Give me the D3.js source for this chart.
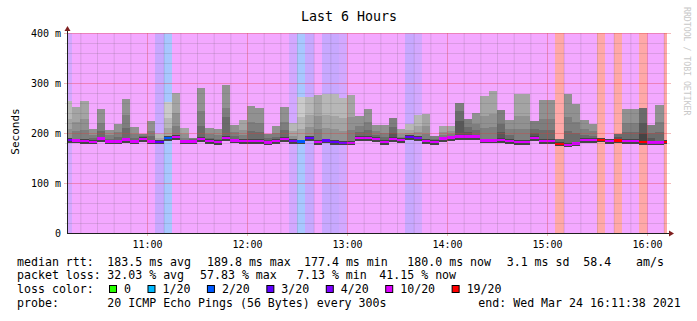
<!DOCTYPE html>
<html>
<head>
<meta charset="utf-8">
<script src="https://cdn.jsdelivr.net/npm/d3@7"></script>
<style>
  body { margin: 0; background: #fff; }
  svg { display: block; }
  text { font-family: "DejaVu Sans Mono", monospace; fill: #000; }
</style>
</head>
<body>
<svg id="chart" width="697" height="321"></svg>
<script>
// 5 minute bins, first one starts 10:10 (partly hidden left of the canvas)
const firstBin = new Date(2021, 2, 24, 10, 10, 0);
const startTime = new Date(2021, 2, 24, 10, 11, 38);
const endTime = new Date(2021, 2, 24, 16, 11, 38);
const binTimes = d3.range(73).map(i => d3.timeMinute.offset(firstBin, 5 * i));

// values in ms
const rttMedian = [186,185,184,182,189,183,183,187,183,188, 183,182,190,192,183,183,188,184,182,190,
  185,184,184,184,181,184,188,184,183,190, 182,185,182,180,180,190,190,188,182,188,
  186,192,190,184,182,189,191,193,193,193, 185,185,186,184,182,182,190,184,184,178,
  176,179,186,186,186,184,185,184,184,182, 181,181,182];
const rttMax = [264,253,265,209,248,206,218,268,213,199, 224,199,263,280,211,191,290,211,208,297,
  217,226,255,250,198,214,252,220,273,273, 276,278,278,271,276,235,249,217,216,231,
  209,219,236,239,194,215,215,261,229,241, 274,284,246,227,279,279,225,266,266,188,
  279,259,226,218,189,189,198,249,249,251, 216,257,186];
const rttHigh = [229,222,228,197,221,196,202,236,199,194, 205,191,230,240,198,188,245,199,196,250,
  203,207,223,220,190,200,223,204,232,236, 234,236,235,230,233,215,222,204,201,212,
  199,207,215,214,189,203,204,244,213,219, 234,239,219,208,235,235,209,229,229,183,
  233,223,208,204,188,187,192,220,220,220, 200,223,184];
const rttMid = [208,204,207,190,205,189,193,210,191,191, 194,187,210,215,191,186,215,191,189,232,
  194,196,204,202,186,192,206,194,208,213, 208,211,209,205,207,203,206,196,192,200,
  192,200,203,199,185,196,198,225,203,206, 210,213,203,196,209,209,200,207,207,181,
  205,201,197,195,187,186,189,202,202,201, 191,202,183];
const rttMin = [181,180,179,178,183,178,178,181,178,182, 178,178,184,186,178,178,182,179,177,184,
  180,179,179,179,177,179,182,179,178,184, 177,180,177,176,176,184,184,182,177,182,
  181,186,184,179,177,183,185,187,187,187, 180,180,181,179,177,177,184,179,179,175,
  173,175,181,181,182,179,181,179,179,177, 176,176,178];
// lost pings out of 20 per bin
const lossCount = [4,5,6,7,8,7,8,8,8,10, 8,3,2,5,6,10,8,8,8,8,
  8,5,7,8,9,8,8,4,2,3, 5,3,3,4,6,8,7,8,8,9,
  5,3,4,6,9,5,5,10,9,8, 6,6,9,8,5,5,9,8,8,12,
  8,8,8,8,11,10,11,8,8,11, 9,8,12];

const lossSteps = [0, 1, 2, 3, 4, 10, 19];
const lossLabels = ['0', '1/20', '2/20', '3/20', '4/20', '10/20', '19/20'];
const lossColors = ['#26ff00', '#00b8ff', '#0059ff', '#5e00ff', '#7e00ff', '#dd00ff', '#ff0000'];

const yTicks = [0, 100, 200, 300, 400];

const svg = d3.select('#chart');
const x = d3.scaleTime().domain([startTime, endTime]).range([66.4, 666.4]);
const y = d3.scaleLinear().domain([0, 400]).range([233, 33]);

svg.append('defs').append('clipPath').attr('id', 'canvas')
  .append('rect').attr('x', 67).attr('y', 33).attr('width', 600).attr('height', 200);

const bins = binTimes.map((t, i) => ({
  t0: t, t1: d3.timeMinute.offset(t, 5),
  med: rttMedian[i], max: rttMax[i], high: rttHigh[i], mid: rttMid[i], min: rttMin[i],
  loss: lossCount[i]
}));

function lossIndex(m) {
  return Math.min(d3.bisectLeft(lossSteps, m), lossSteps.length - 1);
}
// smokeping style grey for band i of 10
function shade(i) {
  const c = Math.floor(190 / 10 * (10 - Math.min(i, 10))) + 50;
  return d3.rgb(c, c, c).formatHex();
}

const canvas = svg.append('g').attr('clip-path', 'url(#canvas)');

// loss background
canvas.selectAll('.lossbg')
  .data(bins)
  .enter()
  .append('rect')
  .attr('class', 'lossbg')
  .attr('x', d => x(d.t0))
  .attr('width', d => x(d.t1) - x(d.t0))
  .attr('y', 33)
  .attr('height', 200)
  .attr('shape-rendering', 'crispEdges')
  .attr('fill', d => {
    const c = d3.rgb(lossColors[lossIndex(d.loss)]);
    const a = 0.34;
    return d3.rgb(255 - a * (255 - c.r), 255 - a * (255 - c.g), 255 - a * (255 - c.b)).formatHex();
  });

// smoke, outer band first
const levels = [
  { top: d => d.max, band: 0 },
  { top: d => d.high, band: 1 },
  { top: d => d.mid, band: 2 },
  { top: d => d.med + 4, band: 'core' }
];
levels.forEach(lv => {
  canvas.append('g')
    .selectAll('rect')
    .data(bins)
    .enter()
    .append('rect')
    .attr('x', d => x(d.t0))
    .attr('width', d => x(d.t1) - x(d.t0))
    .attr('y', d => y(lv.top(d)))
    .attr('height', d => Math.max(0, y(d.min) - y(lv.top(d))))
    .attr('shape-rendering', 'crispEdges')
    .attr('fill', d => {
      if (lv.band === 'core') return shade(9);
      return shade(Math.ceil(d.loss / 2) + 1 + lv.band);
    });
});

// median
canvas.selectAll('.median')
  .data(bins)
  .enter()
  .append('rect')
  .attr('class', 'median')
  .attr('x', d => x(d.t0))
  .attr('width', d => x(d.t1) - x(d.t0))
  .attr('y', d => y(d.med) - 1.25)
  .attr('height', 2.5)
  .attr('shape-rendering', 'crispEdges')
  .attr('fill', d => lossColors[lossIndex(d.loss)]);

// grid on top
const minorY = d3.range(0, 401, 20).filter(v => v % 100 !== 0);
svg.append('g')
  .attr('transform', 'translate(65,0)')
  .call(d3.axisLeft(y).tickValues(minorY).tickSize(-605).tickFormat(''))
  .call(g => g.select('.domain').remove())
  .selectAll('line').attr('stroke', 'rgba(80,80,80,0.16)');
svg.append('g')
  .attr('transform', 'translate(64,0)')
  .call(d3.axisLeft(y).tickValues(yTicks.slice(1)).tickSize(-607).tickFormat(''))
  .call(g => g.select('.domain').remove())
  .selectAll('line').attr('stroke', 'rgba(222,60,60,0.35)');
svg.append('g')
  .attr('transform', 'translate(0,233)')
  .call(d3.axisBottom(x).ticks(d3.timeMinute.every(10)).tickSize(-200).tickFormat(''))
  .call(g => g.select('.domain').remove())
  .selectAll('line').attr('stroke', d => d.getMinutes() === 0 ? 'none' : 'rgba(80,80,80,0.16)');
svg.append('g')
  .attr('transform', 'translate(0,236)')
  .call(d3.axisBottom(x).ticks(d3.timeHour.every(1)).tickSize(-203).tickFormat(''))
  .call(g => g.select('.domain').remove())
  .selectAll('line').attr('stroke', 'rgba(222,60,60,0.35)');

// axes
svg.append('line').attr('x1', 67.5).attr('x2', 67.5).attr('y1', 233).attr('y2', 30)
  .attr('stroke', '#1f1f1f');
svg.append('line').attr('x1', 67).attr('x2', 670).attr('y1', 233.5).attr('y2', 233.5)
  .attr('stroke', '#1f1f1f');
svg.append('path').attr('d', 'M64.5,31L70.5,31L67.5,26Z').attr('fill', '#7f1f1f');
svg.append('path').attr('d', 'M669,230.5L669,236.5L674,233.5Z').attr('fill', '#7f1f1f');

const yAxis = svg.append('g')
  .attr('transform', 'translate(61,0)')
  .call(d3.axisLeft(y).tickValues(yTicks).tickSize(0).tickPadding(0)
    .tickFormat(d => d === 0 ? '0' : d + ' m'));
yAxis.select('.domain').remove();
yAxis.selectAll('text').attr('font-family', '"DejaVu Sans Mono", monospace').attr('font-size', '10px').attr('fill', '#000');

const xAxis = svg.append('g')
  .attr('transform', 'translate(0,233)')
  .call(d3.axisBottom(x).ticks(d3.timeHour.every(1)).tickSize(0).tickPadding(7.4)
    .tickFormat(d3.timeFormat('%H:%M')));
xAxis.select('.domain').remove();
xAxis.selectAll('text').attr('font-family', '"DejaVu Sans Mono", monospace').attr('font-size', '10px').attr('fill', '#000');

// titles
svg.append('text')
  .attr('x', 349).attr('y', 20.5)
  .attr('text-anchor', 'middle')
  .style('font-size', '13.3px')
  .text('Last 6 Hours');
svg.append('text')
  .attr('transform', 'translate(18.5,131.5) rotate(-90)')
  .attr('text-anchor', 'middle')
  .style('font-size', '11px')
  .text('Seconds');
svg.append('text')
  .attr('transform', 'translate(683.5,7) rotate(90)')
  .style('font-size', '8.2px')
  .style('fill', '#c8c8c8')
  .text('RRDTOOL / TOBI OETIKER');

// legend
const legendRows = [
  { y: 265.5, items: [['median rtt:', 17], ['183.5 ms avg', 107.3], ['189.8 ms max', 207], ['177.4 ms min', 304],
    ['180.0 ms now', 407.3], ['3.1 ms sd', 506.7], ['58.4', 583.3], ['am/s', 636]] },
  { y: 279, items: [['packet loss:', 17], ['32.03 % avg', 107.3], ['57.83 % max', 200], ['7.13 % min', 297],
    ['41.15 % now', 379.3]] },
  { y: 292.7, items: [['loss color:', 17]] },
  { y: 306.5, items: [['probe:', 17], ['20 ICMP Echo Pings (56 Bytes) every 300s', 107.3],
    ['end: Wed Mar 24 16:11:38 2021', 478.3]] }
];
legendRows.forEach(row => {
  svg.append('g')
    .selectAll('text')
    .data(row.items)
    .enter()
    .append('text')
    .attr('x', d => d[1])
    .attr('y', row.y)
    .style('font-size', '11.6px')
    .text(d => d[0]);
});

const charW = 11.6 * 0.602;
let bx = 109.5;
lossLabels.forEach((label, i) => {
  svg.append('rect')
    .attr('x', bx).attr('y', 285.5)
    .attr('width', 7).attr('height', 7)
    .attr('fill', lossColors[i])
    .attr('stroke', '#000');
  svg.append('text')
    .attr('x', bx + 14.5).attr('y', 292.7)
    .style('font-size', '11.6px')
    .text(label);
  bx += 14.5 + label.length * charW + 17;
});
</script>
</body>
</html>
